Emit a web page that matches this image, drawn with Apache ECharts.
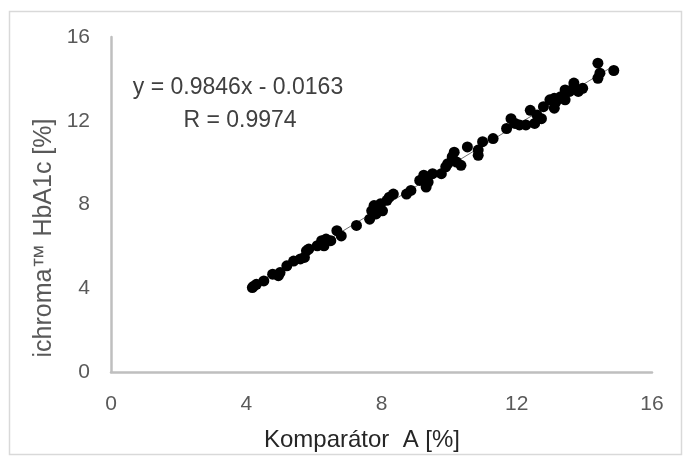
<!DOCTYPE html>
<html>
<head>
<meta charset="utf-8">
<script src="https://cdn.jsdelivr.net/npm/echarts@6/dist/echarts.min.js"></script>
<style>
  html, body { margin: 0; padding: 0; background: #fff; }
  #chart { width: 683px; height: 457px; }
</style>
</head>
<body>
<div id="chart"></div>
<script>
// komparator A (x) vs ichroma HbA1c (y)
const xValues = [4.18, 4.22, 4.3, 4.52, 4.78, 4.95, 5.0, 5.2, 5.4, 5.6, 5.72, 5.78, 5.85,
  6.1, 6.23, 6.3, 6.36, 6.5, 6.68, 6.81, 7.26, 7.65, 7.71, 7.78, 7.84, 7.9, 7.97, 8.03,
  8.16, 8.23, 8.35, 8.74, 8.87, 9.13, 9.25, 9.32, 9.38, 9.51, 9.77, 9.9, 9.96, 10.09,
  10.15, 10.22, 10.35, 10.54, 10.86, 10.86, 10.99, 11.3, 11.7, 11.83, 11.95, 12.08,
  12.27, 12.4, 12.53, 12.6, 12.73, 12.79, 12.98, 13.11, 13.11, 13.17, 13.3, 13.43,
  13.69, 13.56, 13.82, 13.95, 13.69, 13.43, 14.4, 14.4, 14.46, 14.87];
const yValues = [4.03, 4.1, 4.19, 4.35, 4.67, 4.6, 4.75, 5.07, 5.3, 5.4, 5.47, 5.79, 5.87,
  6.03, 6.27, 6.03, 6.35, 6.27, 6.75, 6.5, 7.0, 7.3, 7.7, 7.95, 7.55, 7.8, 8.03, 7.7,
  8.2, 8.35, 8.5, 8.5, 8.67, 9.15, 9.4, 8.83, 9.07, 9.47, 9.47, 9.8, 9.95, 10.27,
  10.5, 10.03, 9.87, 10.75, 10.6, 10.35, 11.0, 11.15, 11.63, 12.1, 11.87, 11.8,
  11.8, 12.5, 11.87, 12.27, 12.1, 12.67, 13.0, 13.07, 12.6, 12.93, 13.15, 13.0,
  13.8, 13.4, 13.4, 13.55, 13.63, 13.47, 14.75, 14.03, 14.27, 14.4];
const axisTicks = [0, 4, 8, 12, 16];
// linear fit shown on the chart
const slope = 0.9846;
const intercept = -0.0163;
const trendX = [4.18, 14.87];

const font = '"Liberation Sans", sans-serif';

let myChart = echarts.init(document.getElementById('chart'));
let points = xValues.map((x, i) => [x, yValues[i]]);
let trend = trendX.map(x => [x, slope * x + intercept]);

let option = {
    animation: false,
    grid: { left: 111, right: 31, top: 37, bottom: 85 },
    xAxis: {
        type: 'value', min: axisTicks[0], max: axisTicks[axisTicks.length - 1], interval: 4,
        axisLine: { lineStyle: { color: '#bfbfbf', width: 2.5 } },
        axisTick: { show: false },
        splitLine: { show: false },
        axisLabel: { color: '#595959', fontSize: 21, fontFamily: font, margin: 22 }
    },
    yAxis: {
        type: 'value', min: axisTicks[0], max: axisTicks[axisTicks.length - 1], interval: 4,
        axisLine: { show: true, lineStyle: { color: '#bfbfbf', width: 2.5 } },
        axisTick: { show: false },
        splitLine: { show: false },
        axisLabel: { color: '#595959', fontSize: 21, fontFamily: font, margin: 21 }
    },
    series: [
        {
            type: 'line', data: trend, symbol: 'none', silent: true,
            lineStyle: { color: '#6f6f6f', width: 1 }, z: 1
        },
        {
            type: 'scatter', data: points, symbolSize: 11,
            itemStyle: { color: '#000', opacity: 1 }, z: 2
        }
    ],
    graphic: [
        {
            type: 'rect', shape: { x: 9.5, y: 11.5, width: 672, height: 443 },
            style: { fill: 'none', stroke: '#d9d9d9', lineWidth: 1.5 }, silent: true
        },
        {
            type: 'text', x: 362, y: 440,
            style: { text: 'Komparátor  A [%]', fill: '#262626', font: '24px ' + font,
                textAlign: 'center', textVerticalAlign: 'middle' }
        },
        {
            type: 'text', x: 44, y: 238, rotation: Math.PI / 2,
            style: { text: 'ichroma™ HbA1c [%]', fill: '#595959', font: '25px ' + font,
                textAlign: 'center', textVerticalAlign: 'middle' }
        },
        {
            type: 'text', x: 238, y: 88,
            style: { text: 'y = 0.9846x - 0.0163', fill: '#404040', font: '23px ' + font,
                textAlign: 'center', textVerticalAlign: 'middle' }
        },
        {
            type: 'text', x: 240, y: 121,
            style: { text: 'R = 0.9974', fill: '#404040', font: '23px ' + font,
                textAlign: 'center', textVerticalAlign: 'middle' }
        }
    ]
};
myChart.setOption(option);
</script>
</body>
</html>
